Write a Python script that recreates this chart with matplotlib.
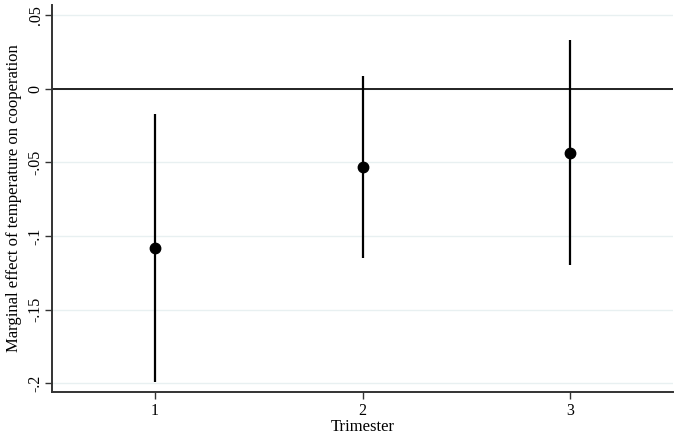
import matplotlib
matplotlib.use("Agg")
import matplotlib.pyplot as plt

plt.rcParams['font.family'] = ['Liberation Serif', 'DejaVu Serif']

trimesters = [1, 2, 3]
effects = [-0.108, -0.053, -0.0435]
ci_low = [-0.199, -0.115, -0.120]
ci_high = [-0.017, 0.0088, 0.033]
yticks = [0.05, 0, -0.05, -0.1, -0.15, -0.2]
ytick_labels = ['.05', '0', '-.05', '-.1', '-.15', '-.2']

fig = plt.figure(figsize=(6.8, 4.4), dpi=100)
ax = fig.add_axes([0.0765, 0.109, 0.9132, 0.8796])

for y in yticks:
    ax.axhline(y, color='#e8f0f1', linewidth=1, zorder=0)
ax.axhline(0, color='#222222', linewidth=1.4, zorder=1)

ax.vlines(trimesters, ci_low, ci_high, color='black', linewidth=1.6, zorder=2)
ax.plot(trimesters, effects, 'o', color='black', markersize=7.5, zorder=3)

ax.set_xlim(0.504, 3.496)
ax.set_ylim(-0.206, 0.057)
ax.set_xticks(trimesters)
ax.set_xticklabels([str(t) for t in trimesters], fontsize=11.5)
ax.set_yticks(yticks)
ax.set_yticklabels(ytick_labels, fontsize=11.5, rotation=90, va='center')

for side in ['top', 'right']:
    ax.spines[side].set_visible(False)
for side in ['left', 'bottom']:
    ax.spines[side].set_color('#333333')
    ax.spines[side].set_linewidth(1.4)
ax.tick_params(length=5, width=1, color='#333333', pad=3)
ax.tick_params(axis='y', pad=1)

ax.set_xlabel('Trimester', fontsize=12, labelpad=0)
ax.set_ylabel('Marginal effect of temperature on cooperation', fontsize=12, labelpad=4)

fig.savefig('out.png', dpi=100)
